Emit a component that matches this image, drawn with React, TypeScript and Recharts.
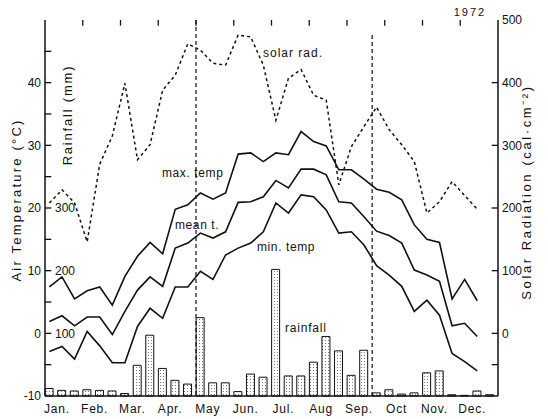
import React from 'react';
import { ComposedChart, Line, Bar, XAxis, YAxis, ReferenceLine } from 'recharts';

// 10-day periods (dekads) of 1972, three per month
const dekads = [
  1, 2, 3, 4, 5, 6, 7, 8, 9, 10, 11, 12, 13, 14, 15, 16, 17, 18,
  19, 20, 21, 22, 23, 24, 25, 26, 27, 28, 29, 30, 31, 32, 33, 34, 35, 36,
];
const monthNames = ['Jan.', 'Feb.', 'Mar.', 'Apr.', 'May', 'Jun.', 'Jul.', 'Aug', 'Sep.', 'Oct', 'Nov.', 'Dec.'];

// air temperature (°C)
const maxTemp = [
  7.4, 9.0, 5.5, 6.8, 7.4, 4.5, 9.1, 12.3, 14.5, 12.7, 19.8, 20.5,
  22.4, 21.4, 22.4, 28.6, 28.8, 27.4, 28.8, 28.5, 32.2, 30.6, 29.9,
  26.1, 26.1, 24.6, 23.0, 22.5, 21.3, 17.3, 15.0, 14.5, 5.5, 8.6, 5.2,
];
const meanTemp = [
  1.9, 2.8, 1.2, 2.6, 2.6, -0.2, 3.5, 6.9, 9.0, 7.5, 13.6, 14.4,
  16.0, 15.2, 16.2, 20.9, 21.0, 21.8, 24.4, 23.2, 26.2, 26.2, 25.3,
  21.0, 20.8, 18.6, 16.3, 15.6, 14.4, 10.1, 9.3, 8.3, 1.2, 1.6, -0.5,
];
const minTemp = [
  -2.9, -2.1, -4.1, 0.3, -2.0, -4.7, -4.7, 1.1, 4.0, 2.4, 7.4, 7.4,
  9.9, 8.6, 12.5, 13.6, 14.4, 16.2, 20.8, 19.2, 22.1, 21.8, 19.7,
  16.0, 16.2, 14.1, 10.8, 9.3, 7.5, 3.5, 5.3, 2.9, -3.2, -4.5, -6.0,
];
// solar radiation (cal cm-2)
const solarRad = [
  208, 229, 208, 146, 270, 315, 399, 277, 301, 388, 412, 462,
  452, 431, 428, 476, 473, 428, 340, 407, 421, 380, 372,
  237, 298, 330, 361, 325, 301, 274, 192, 210, 242, 220, 198,
];
// rainfall (mm)
const rainfall = [
  12, 9, 8, 10, 9, 8, 4, 49, 97, 44, 25, 19,
  125, 21, 21, 7, 35, 30, 202, 32, 32, 54, 95, 72,
  33, 73, 5, 10, 3, 5, 37, 40, 2, 1, 8, 2,
];

const tempTicks = [-10, -5, 0, 5, 10, 15, 20, 25, 30, 35, 40, 45, 50];
const rainTicks = [100, 200, 300];
const solarTicks = [-50, 0, 100, 200, 300, 400, 500];
const seasonMarks = [12.65, 26.65];

const X0 = 0.65;
const X1 = 36.65;
const monthTicks = monthNames.map((_, m) => X0 + 1.5 + 3 * m);
const monthEdges = monthNames.slice(1).map((_, m) => X0 + 3 * (m + 1));

const data = dekads.map((d, i) => ({
  d,
  max: maxTemp[i],
  mean: meanTemp[i],
  min: minTemp[i],
  solar: solarRad[i],
  rain: rainfall[i],
}));

const ink = '#111';
const font = 'Liberation Sans, Arial, sans-serif';
// inward tick length in axis units
const tickX = 0.5;
const tickT = 0.9;
const tickS = 9;

export default function App() {
  return (
    <div style={{ position: 'absolute', left: 0, top: 0, width: 548, height: 419, background: '#fff' }}>
      <svg width={0} height={0} style={{ position: 'absolute' }}>
        <defs>
          <pattern id="stipple" width={3} height={3} patternUnits="userSpaceOnUse">
            <rect width={3} height={3} fill="#fff" />
            <rect x={1} y={1} width={1} height={1} fill="#777" />
          </pattern>
        </defs>
      </svg>
      <ComposedChart width={548} height={419} data={data} margin={{ top: 20, right: 0, bottom: 0, left: 0 }}>
        <XAxis
          dataKey="d"
          type="number"
          domain={[X0, X1]}
          ticks={monthTicks}
          interval={0}
          tickFormatter={(v: number) => monthNames[Math.round((v - X0 - 1.5) / 3)]}
          tickLine={false}
          axisLine={{ stroke: ink, strokeWidth: 1.5 }}
          tick={{ fill: ink, fontSize: 12, fontFamily: font, dx: -7, letterSpacing: 0.8 }}
          height={23}
        />
        <XAxis
          xAxisId="top"
          orientation="top"
          type="number"
          domain={[X0, X1]}
          ticks={monthEdges}
          tick={false}
          tickLine={false}
          axisLine={{ stroke: ink, strokeWidth: 1.5 }}
          height={0}
        />
        <YAxis
          yAxisId="t"
          domain={[-10, 50]}
          ticks={tempTicks}
          interval={0}
          tickSize={0}
          tickMargin={4}
          width={45}
          tickFormatter={(v: number) => (v % 10 === 0 && v < 50 ? String(v) : '')}
          tick={{ fill: ink, fontSize: 12, fontFamily: font }}
          tickLine={false}
          axisLine={{ stroke: ink, strokeWidth: 1.5 }}
        />
        <YAxis
          yAxisId="r"
          domain={[0, 600]}
          ticks={rainTicks}
          interval={0}
          mirror
          width={40}
          tickLine={false}
          axisLine={false}
          tickSize={0}
          tickMargin={10}
          tick={{ fill: ink, fontSize: 12, fontFamily: font }}
        />
        <YAxis
          yAxisId="s"
          orientation="right"
          domain={[-100, 500]}
          ticks={solarTicks}
          interval={0}
          tickSize={0}
          tickMargin={4}
          width={50}
          tickFormatter={(v: number) => (v >= 0 ? String(v) : '')}
          tick={{ fill: ink, fontSize: 12, fontFamily: font }}
          tickLine={false}
          axisLine={{ stroke: ink, strokeWidth: 1.5 }}
        />
        <Bar
          yAxisId="r"
          dataKey="rain"
          barSize={8}
          fill="url(#stipple)"
          stroke={ink}
          strokeWidth={1}
          isAnimationActive={false}
        />
        {tempTicks.slice(1, -1).map((v) => (
          <ReferenceLine
            key={'lt' + v}
            yAxisId="t"
            segment={[{ x: X0, y: v }, { x: X0 + tickX, y: v }]}
            stroke={ink}
            strokeWidth={1.3}
          />
        ))}
        {solarTicks.slice(0, -1).map((v) => (
          <ReferenceLine
            key={'rt' + v}
            yAxisId="s"
            segment={[{ x: X1 - tickX, y: v }, { x: X1, y: v }]}
            stroke={ink}
            strokeWidth={1.3}
          />
        ))}
        {monthEdges.map((e) => (
          <ReferenceLine
            key={'tt' + e}
            yAxisId="t"
            segment={[{ x: e, y: 50 }, { x: e, y: 50 - tickT }]}
            stroke={ink}
            strokeWidth={1.3}
          />
        ))}
        <ReferenceLine
          yAxisId="t"
          segment={[{ x: seasonMarks[0], y: 50 }, { x: seasonMarks[0], y: -10 }]}
          stroke={ink}
          strokeWidth={1.2}
          strokeDasharray="4 3"
        />
        <ReferenceLine
          yAxisId="t"
          segment={[{ x: seasonMarks[1], y: 47.6 }, { x: seasonMarks[1], y: -10 }]}
          stroke={ink}
          strokeWidth={1.2}
          strokeDasharray="4 3"
        />
        <Line yAxisId="s" type="linear" dataKey="solar" stroke={ink} strokeWidth={1.5} strokeDasharray="3 3" dot={false} isAnimationActive={false} />
        <Line yAxisId="t" type="linear" dataKey="max" stroke={ink} strokeWidth={1.6} dot={false} isAnimationActive={false} />
        <Line yAxisId="t" type="linear" dataKey="mean" stroke={ink} strokeWidth={1.6} dot={false} isAnimationActive={false} />
        <Line yAxisId="t" type="linear" dataKey="min" stroke={ink} strokeWidth={1.6} dot={false} isAnimationActive={false} />
      </ComposedChart>
      <svg
        width={548}
        height={419}
        style={{ position: 'absolute', left: 0, top: 0, pointerEvents: 'none' }}
        fontFamily={font}
        fill={ink}
      >
        <text x={470} y={16} fontSize={11} textAnchor="middle" letterSpacing={2}>1972</text>
        <text x={263} y={57} fontSize={12} letterSpacing={1}>solar rad.</text>
        <text x={162} y={177} fontSize={12} letterSpacing={0.6}>max. temp</text>
        <text x={175} y={229} fontSize={12} letterSpacing={0.6}>mean t.</text>
        <text x={257} y={251} fontSize={12} letterSpacing={0.6}>min. temp</text>
        <text x={285} y={332} fontSize={12} letterSpacing={0.8}>rainfall</text>
        <text transform="translate(21,200) rotate(-90)" fontSize={13} textAnchor="middle" letterSpacing={2.2}>
          Air  Temperature (°C)
        </text>
        <text transform="translate(72,115) rotate(-90)" fontSize={13} textAnchor="middle" letterSpacing={1.8}>
          Rainfall (mm)
        </text>
        <text transform="translate(531,192) rotate(-90)" fontSize={13} textAnchor="middle" letterSpacing={2.6}>
          Solar  Radiation  (cal·cm⁻²)
        </text>
      </svg>
    </div>
  );
}
